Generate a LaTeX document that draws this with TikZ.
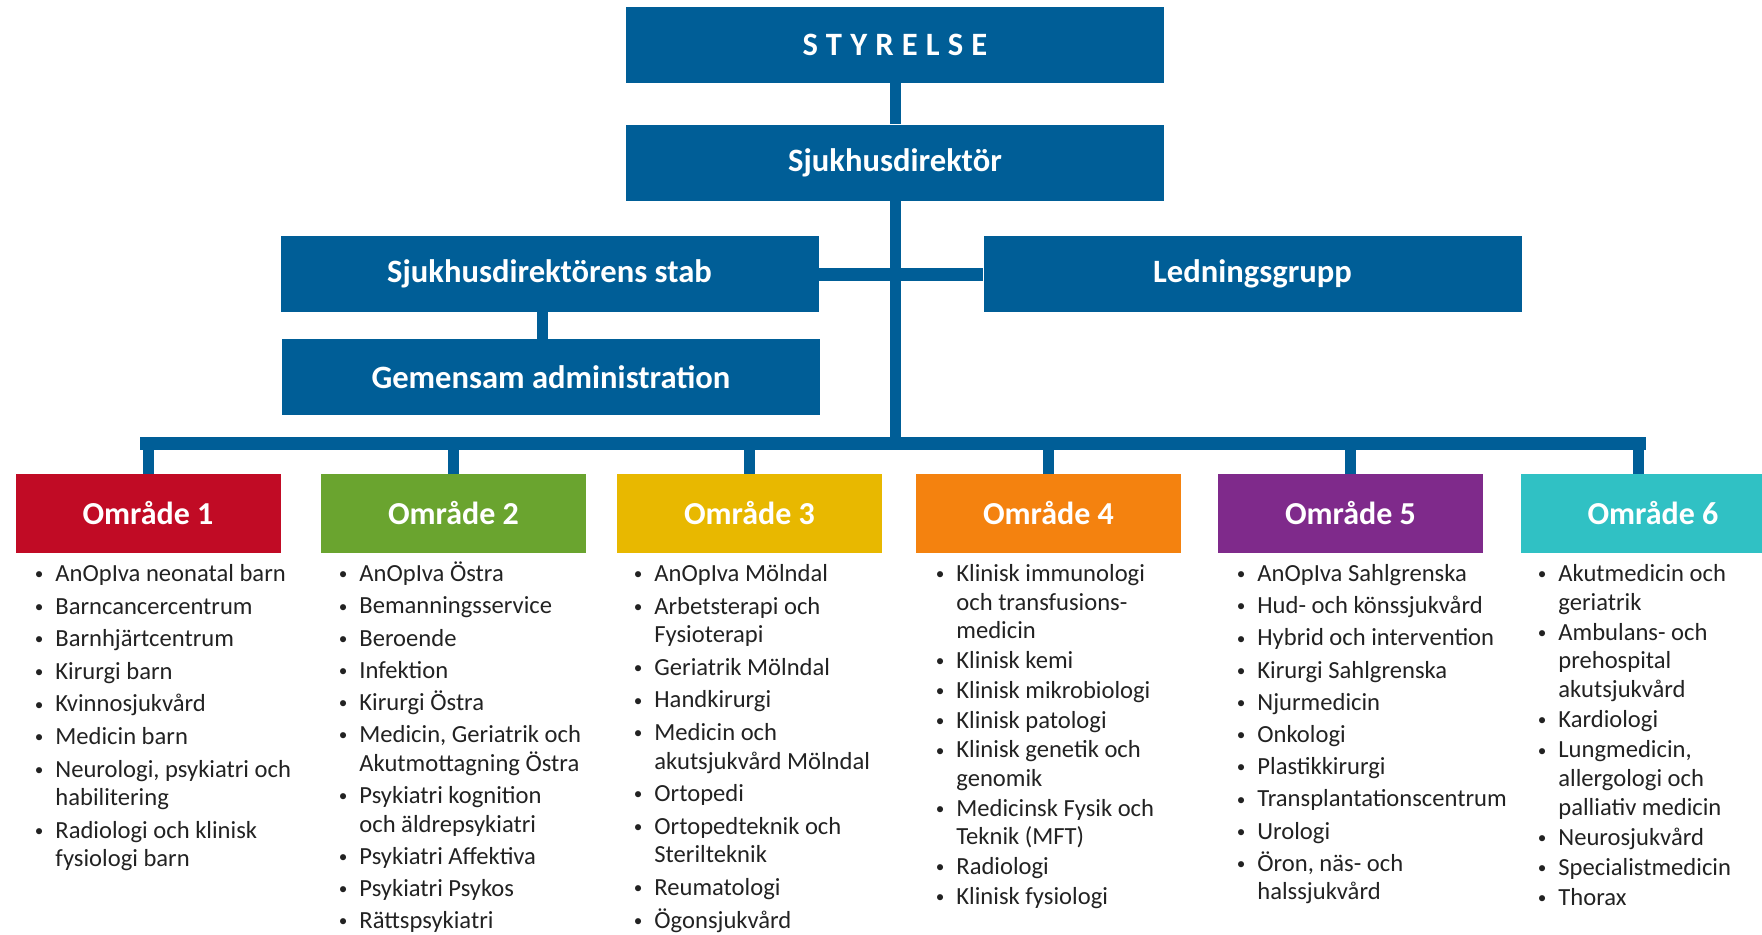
\documentclass[tikz,border=0pt]{standalone}
\usepackage{fontspec}
\setmainfont{Carlito}
\usetikzlibrary{positioning}

\definecolor{vgrblue}{HTML}{005E97}
\definecolor{omrred}{HTML}{C10B25}
\definecolor{omrgreen}{HTML}{6AA42F}
\definecolor{omryellow}{HTML}{E8B800}
\definecolor{omrorange}{HTML}{F4820F}
\definecolor{omrpurple}{HTML}{7F2A8B}
\definecolor{omrteal}{HTML}{30C1C4}
\definecolor{listtext}{HTML}{222222}

\newcommand{\itm}{\llap{\raisebox{0.9pt}{\scalebox{0.7}{\textbullet}}\hspace{6pt}}}

\tikzset{
  topbox/.style={fill=vgrblue, text=white, font=\bfseries\fontsize{16.3}{19}\selectfont,
    minimum width=269pt, minimum height=38pt, inner sep=0pt},
  omrbox/.style={fill=#1, text=white, font=\bfseries\fontsize{16}{19}\selectfont,
    minimum width=132.5pt, minimum height=39.5pt, inner sep=0pt},
  unitlist/.style={anchor=north west, align=left, inner sep=0pt, text=listtext,
    font=\fontsize{12.3}{14.3}\selectfont},
  link/.style={draw=vgrblue, line width=5.5pt},
  bus/.style={draw=vgrblue, line width=6.5pt},
}

\begin{document}
\begin{tikzpicture}[x=0.5pt, y=-0.5pt]
\useasboundingbox (0,0) rectangle (1762,934);

% ledning
\node[topbox] (styrelse) at (895,44.5) {\addfontfeatures{LetterSpace=25}STYRELSE};
\node[topbox] (direktor) at (895,162.5) {Sjukhusdirektör};
\node[topbox] (stab) at (549.5,274) {Sjukhusdirektörens stab};
\node[topbox] (ledning) at (1252.5,274) {Ledningsgrupp};
\node[topbox] (gem) at (551,377) {Gemensam administration};

% områden
\node[omrbox=omrred] (o1) at (148,513.5) {Område 1};
\node[omrbox=omrgreen] (o2) at (453.5,513.5) {Område 2};
\node[omrbox=omryellow] (o3) at (749.5,513.5) {Område 3};
\node[omrbox=omrorange] (o4) at (1048.5,513.5) {Område 4};
\node[omrbox=omrpurple] (o5) at (1350.5,513.5) {Område 5};
\node[omrbox=omrteal] (o6) at (1653,513.5) {Område 6};

% connectors
\coordinate (busL) at (140,443);
\coordinate (busR) at (1646,443);
\coordinate (sg) at ([xshift=-3.75pt]stab.south);
\coordinate (d6) at ([xshift=-7.5pt]o6.north);
\draw[link] (styrelse.south) -- (direktor.north);
\draw[link] (direktor.south) -- (direktor.south |- busL);
\draw[bus] (stab.east) -- (ledning.west);
\draw[link] (sg) -- (sg |- gem.north);
\draw[bus] (busL) -- (busR);
\foreach \o in {o1,o2,o3,o4,o5}
  \draw[link] (\o.north |- busL) -- (\o.north);
\draw[link] (d6 |- busL) -- (d6);

% enheter
\node[unitlist] (l1) at (55,564) {\itm AnOpIva neonatal barn\\[2pt]
  \itm Barncancercentrum\\[2pt]
  \itm Barnhjärtcentrum\\[2pt]
  \itm Kirurgi barn\\[2pt]
  \itm Kvinnosjukvård\\[2pt]
  \itm Medicin barn\\[2pt]
  \itm Neurologi, psykiatri och\\ habilitering\\[2pt]
  \itm Radiologi och klinisk\\ fysiologi barn};
\node[unitlist] (l2) at (359,561.5) {\itm AnOpIva Östra\\[1.8pt]
  \itm Bemanningsservice\\[1.8pt]
  \itm Beroende\\[1.8pt]
  \itm Infektion\\[1.8pt]
  \itm Kirurgi Östra\\[1.8pt]
  \itm Medicin, Geriatrik och\\ Akutmottagning Östra\\[1.8pt]
  \itm Psykiatri kognition\\ och äldrepsykiatri\\[1.8pt]
  \itm Psykiatri Affektiva\\[1.8pt]
  \itm Psykiatri Psykos\\[1.8pt]
  \itm Rättspsykiatri};
\node[unitlist] (l3) at (654,564) {\itm AnOpIva Mölndal\\[2pt]
  \itm Arbetsterapi och\\ Fysioterapi\\[2pt]
  \itm Geriatrik Mölndal\\[2pt]
  \itm Handkirurgi\\[2pt]
  \itm Medicin och\\ akutsjukvård Mölndal\\[2pt]
  \itm Ortopedi\\[2pt]
  \itm Ortopedteknik och\\ Sterilteknik\\[2pt]
  \itm Reumatologi\\[2pt]
  \itm Ögonsjukvård};
\node[unitlist] (l4) at (956,564) {\itm Klinisk immunologi\\ och transfusions-\\ medicin\\[0.6pt]
  \itm Klinisk kemi\\[0.6pt]
  \itm Klinisk mikrobiologi\\[0.6pt]
  \itm Klinisk patologi\\[0.6pt]
  \itm Klinisk genetik och\\ genomik\\[0.6pt]
  \itm Medicinsk Fysik och\\ Teknik (MFT)\\[0.6pt]
  \itm Radiologi\\[0.6pt]
  \itm Klinisk fysiologi};
\node[unitlist] (l5) at (1257,564) {\itm AnOpIva Sahlgrenska\\[1.8pt]
  \itm Hud- och könssjukvård\\[1.8pt]
  \itm Hybrid och intervention\\[1.8pt]
  \itm Kirurgi Sahlgrenska\\[1.8pt]
  \itm Njurmedicin\\[1.8pt]
  \itm Onkologi\\[1.8pt]
  \itm Plastikkirurgi\\[1.8pt]
  \itm Transplantationscentrum\\[1.8pt]
  \itm Urologi\\[1.8pt]
  \itm Öron, näs- och\\ halssjukvård};
\node[unitlist] (l6) at (1558,564) {\itm Akutmedicin och\\ geriatrik\\[0.8pt]
  \itm Ambulans- och\\ prehospital\\ akutsjukvård\\[0.8pt]
  \itm Kardiologi\\[0.8pt]
  \itm Lungmedicin,\\ allergologi och\\ palliativ medicin\\[0.8pt]
  \itm Neurosjukvård\\[0.8pt]
  \itm Specialistmedicin\\[0.8pt]
  \itm Thorax};
\end{tikzpicture}
\end{document}
